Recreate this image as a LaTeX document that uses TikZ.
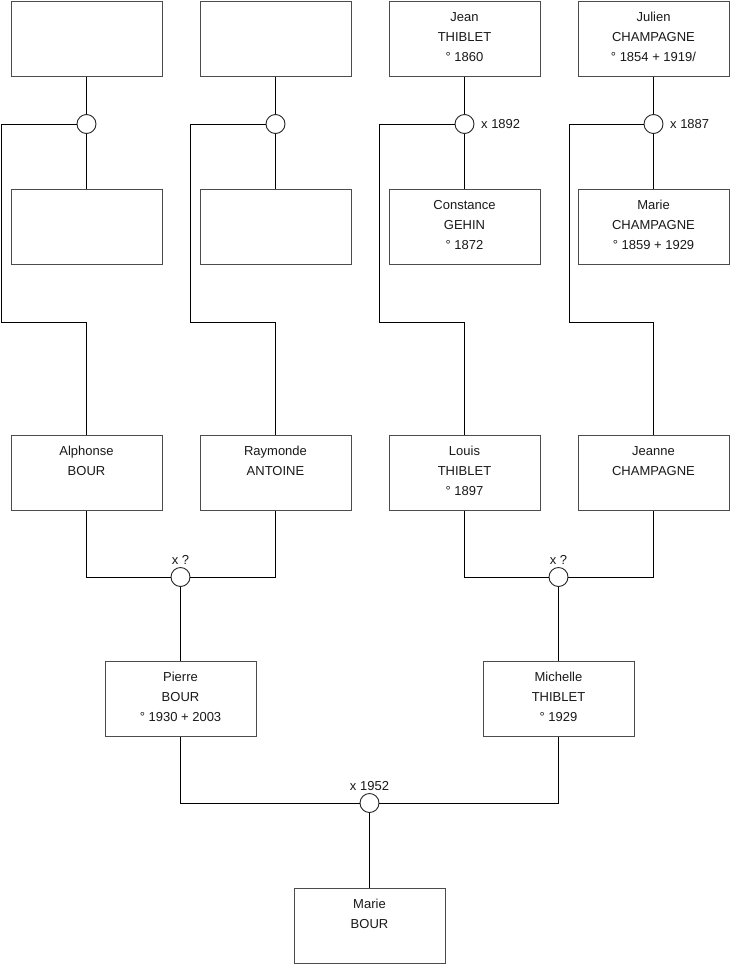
\documentclass[tikz,border=0pt]{standalone}
\usepackage{fontspec}
\setmainfont{Liberation Sans}
\newcommand{\person}[1]{\parbox[c][75pt][t]{151pt}{\centering\vspace*{6pt}\strut #1\strut}}
\begin{document}
\begin{tikzpicture}[x=1pt,y=-1pt,
  every node/.style={font=\fontsize{13}{20}\selectfont, text=black!90},
  pbox/.style={draw=black!70, line width=1pt, fill=white, inner sep=0pt, minimum width=151pt, minimum height=75pt},
  mar/.style={circle, draw=black!85, line width=0.9pt, fill=white, inner sep=0pt, minimum size=19pt},
  lbl/.style={inner sep=3pt},
  conn/.style={draw=black, line width=1pt}]
\useasboundingbox (0,0) rectangle (740,975);

% row 1
\node[pbox] (g1) at (86.5,38.5) {\person{}};
\node[pbox] (g3) at (275.5,38.5) {\person{}};
\node[pbox] (g5) at (464.5,38.5) {\person{Jean\\THIBLET\\° 1860}};
\node[pbox] (g7) at (653.5,38.5) {\person{Julien\\CHAMPAGNE\\° 1854 + 1919/}};
% row 2
\node[pbox] (g2) at (86.5,227) {\person{}};
\node[pbox] (g4) at (275.5,227) {\person{}};
\node[pbox] (g6) at (464.5,227) {\person{Constance\\GEHIN\\° 1872}};
\node[pbox] (g8) at (653.5,227) {\person{Marie\\CHAMPAGNE\\° 1859 + 1929}};
% row 3
\node[pbox] (alph) at (86.5,473) {\person{Alphonse\\BOUR}};
\node[pbox] (raym) at (275.5,473) {\person{Raymonde\\ANTOINE}};
\node[pbox] (louis) at (464.5,473) {\person{Louis\\THIBLET\\° 1897}};
\node[pbox] (jeanne) at (653.5,473) {\person{Jeanne\\CHAMPAGNE}};
% row 4
\node[pbox] (pierre) at (180.5,699) {\person{Pierre\\BOUR\\° 1930 + 2003}};
\node[pbox] (mich) at (558.5,699) {\person{Michelle\\THIBLET\\° 1929}};
% row 5
\node[pbox] (marie) at (369.5,926) {\person{Marie\\BOUR}};

% marriage circles
\node[mar] (m1) at (86.5,124) {};
\node[mar] (m2) at (275.5,124) {};
\node[mar] (m3) at (464.5,124) {};
\node[mar] (m4) at (653.5,124) {};
\node[mar] (m5) at (180.5,577) {};
\node[mar] (m6) at (558.5,577) {};
\node[mar] (m7) at (369.5,803) {};

% corner coordinates
\coordinate (k1) at (1,322);
\coordinate (k2) at (190,322);
\coordinate (k3) at (379,322);
\coordinate (k4) at (569,322);

% connectors
\draw[conn] (g1.south) -- (m1.north);
\draw[conn] (m1.south) -- (g2.north);
\draw[conn] (m1.west) -| (k1) -| (alph.north);
\draw[conn] (g3.south) -- (m2.north);
\draw[conn] (m2.south) -- (g4.north);
\draw[conn] (m2.west) -| (k2) -| (raym.north);
\draw[conn] (g5.south) -- (m3.north);
\draw[conn] (m3.south) -- (g6.north);
\draw[conn] (m3.west) -| (k3) -| (louis.north);
\draw[conn] (g7.south) -- (m4.north);
\draw[conn] (m4.south) -- (g8.north);
\draw[conn] (m4.west) -| (k4) -| (jeanne.north);
\draw[conn] (alph.south) |- (m5.west);
\draw[conn] (raym.south) |- (m5.east);
\draw[conn] (m5.south) -- (pierre.north);
\draw[conn] (louis.south) |- (m6.west);
\draw[conn] (jeanne.south) |- (m6.east);
\draw[conn] (m6.south) -- (mich.north);
\draw[conn] (pierre.south) |- (m7.west);
\draw[conn] (mich.south) |- (m7.east);
\draw[conn] (m7.south) -- (marie.north);

% labels
\node[lbl, anchor=west, xshift=3.5pt] (l3) at (m3.east) {x 1892};
\node[lbl, anchor=west, xshift=3.5pt] (l4) at (m4.east) {x 1887};
\node[lbl, inner sep=2pt, anchor=south] (l5) at (m5.north) {x ?};
\node[lbl, inner sep=2pt, anchor=south] (l6) at (m6.north) {x ?};
\node[lbl, inner sep=2pt, anchor=south] (l7) at (m7.north) {x 1952};
\end{tikzpicture}
\end{document}
